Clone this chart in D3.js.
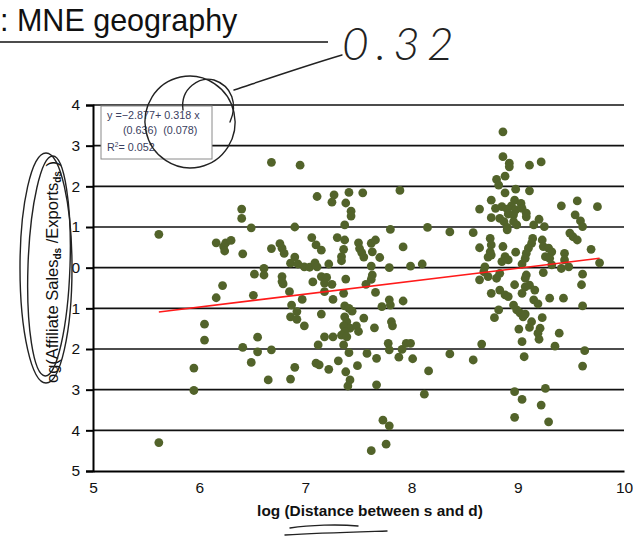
<!DOCTYPE html>
<html lang="en">
<head>
<meta charset="UTF-8">
<title>MNE geography</title>
<script src="https://cdn.jsdelivr.net/npm/d3@7"></script>
<style>
  body { margin: 0; background: #fff; }
  svg { display: block; font-family: "Liberation Sans", Arial, sans-serif; }
  .hand { fill: none; stroke: #222; stroke-width: 1.4; stroke-linecap: round; }
</style>
</head>
<body>
<script>
// chart data
const xTicks = [5, 6, 7, 8, 9, 10]
const yTicks = [4, 3, 2, 1, 0, -1, -2, -3, -4, -5]
const yTickLabels = ['4', '3', '2', '1', '0', '1', '2', '3', '4', '5']   // minus signs are cut off in the scan
const fit = { intercept: -2.877, slope: 0.318, from: 5.62, to: 9.77 }
const fitLines = ['y =\u22122.877+ 0.318 x', '(0.636)  (0.078)', '= 0.052']

const distance = [
  6.68, 6.95, 6.40, 6.40, 5.62, 6.49, 6.90, 6.16, 6.23, 6.25, 6.30, 6.24, 6.41, 6.68, 6.76, 6.78, 6.80,
  6.90, 6.86, 6.93, 6.99, 6.61, 6.61, 6.52, 6.78, 6.78, 6.79, 6.85, 6.22, 6.16, 6.51, 6.87, 6.97,
  6.92, 6.86, 6.92, 6.99, 6.05, 6.05, 6.55, 6.41, 6.55, 6.68, 6.49, 5.95, 6.90, 6.65, 6.86, 5.95, 5.62,
  7.11, 7.27, 7.25, 7.41, 7.54, 7.89, 7.38, 7.43, 7.43, 7.37, 7.80, 8.15, 8.36, 7.06, 7.10, 7.15,
  7.30, 7.37, 7.36, 7.50, 7.51, 7.53, 7.62, 7.66, 7.63, 7.55, 7.70, 7.92, 7.34, 7.34, 7.04, 7.09,
  7.11, 7.22, 7.62, 7.79, 7.99, 8.10, 7.15, 7.20, 7.07, 7.18, 7.25, 7.18, 7.38, 7.63, 7.62, 7.57,
  7.36, 7.66, 7.26, 7.37, 7.41, 7.72, 7.79, 7.80, 7.92,
  7.15, 7.44, 7.37, 7.39, 7.36, 7.42, 7.48, 7.50, 7.37, 7.34, 7.26, 7.18, 7.39, 7.36, 7.55, 7.81,
  7.82, 7.65, 7.12, 7.41, 7.58, 7.67, 7.78, 7.79, 7.91, 7.95, 7.99, 7.88, 8.01, 8.36, 7.10, 7.13,
  7.22, 7.31, 7.38, 7.49, 7.42, 7.40, 7.67, 8.16, 8.12, 7.73, 7.79, 7.76, 7.62,
  8.86, 8.86, 8.92, 8.92, 9.11, 9.22, 8.88, 8.80, 8.82, 8.88, 8.98, 9.11, 8.75, 8.97, 9.03, 8.94,
  8.85, 8.79, 8.90, 8.98, 9.04, 8.91, 8.96, 9.08, 8.75, 8.83, 8.87, 8.96, 9.08, 8.99, 8.90, 8.90,
  8.64, 9.41, 9.56, 9.75, 9.54, 9.59, 9.61, 9.20, 9.15, 9.25, 8.58, 8.74, 8.75, 8.74, 8.72, 8.75,
  8.64, 8.86, 9.14, 9.13, 9.10, 9.08, 9.07, 9.04, 9.23, 9.24, 9.29, 9.32, 9.26, 9.30, 9.32, 9.49,
  9.52, 9.56, 9.69, 9.44, 9.44, 9.41, 9.48, 9.77, 8.98, 8.88, 8.85, 8.91, 8.69, 8.68, 8.64, 8.72,
  8.83, 8.80, 9.08, 9.07, 9.24, 9.61, 9.60, 8.97, 9.07, 9.11, 9.16, 9.04, 8.75, 8.83, 8.88, 8.91,
  9.30, 9.43, 9.15,
  9.19, 9.61, 8.82, 8.96, 8.99, 9.02, 8.78, 9.05, 9.07, 9.13, 9.11, 9.23, 9.21, 9.19, 9.20, 9.01,
  9.39, 9.04, 8.66, 9.35, 8.58, 9.06, 9.63, 9.61, 8.97, 9.04, 9.26, 9.22, 8.97, 9.29
]
const salesRatio = [
  2.59, 2.52, 1.44, 1.21, 0.82, 0.98, 1.00, 0.61, 0.52, 0.61, 0.67, 0.41, 0.34, 0.47, 0.59, 0.48, 0.35,
  0.26, 0.11, 0.09, 0.02, -0.02, -0.18, -0.16, -0.22, -0.34, -0.40, -0.59, -0.44, -0.74, -0.68, -0.92, -0.78,
  -1.08, -1.21, -1.27, -1.43, -1.39, -1.78, -1.71, -1.96, -2.07, -2.02, -2.33, -2.47, -2.45, -2.76, -2.74, -3.02, -4.30,
  1.75, 1.79, 1.61, 1.85, 1.84, 1.90, 1.59, 1.39, 1.27, 1.05, 0.94, 0.99, 0.88, 0.74, 0.56, 0.43,
  0.74, 0.68, 0.45, 0.61, 0.47, 0.37, 0.60, 0.68, 0.39, 0.26, 0.25, 0.51, 0.27, 0.17, 0.01, 0.12,
  0.02, 0.09, 0.04, 0.00, 0.04, 0.09, -0.22, -0.24, -0.35, -0.38, -0.41, -0.59, -0.28, -0.18, -0.29, -0.41,
  -0.63, -0.61, -0.78, -0.94, -1.00, -0.96, -0.79, -0.92, -0.82,
  -1.14, -1.07, -1.21, -1.33, -1.43, -1.49, -1.43, -1.57, -1.57, -1.66, -1.70, -1.70, -1.70, -1.90, -1.24, -1.33,
  -1.43, -1.48, -1.90, -2.09, -2.11, -2.23, -1.86, -2.02, -2.01, -1.86, -1.86, -2.20, -2.24, -2.12, -2.35, -2.39,
  -2.50, -2.29, -2.56, -2.41, -2.76, -2.91, -2.88, -2.54, -3.11, -3.75, -3.89, -4.34, -4.50,
  3.34, 2.73, 2.57, 2.48, 2.52, 2.60, 2.25, 2.17, 2.03, 1.84, 1.93, 1.89, 1.66, 1.66, 1.58, 1.52,
  1.50, 1.46, 1.44, 1.42, 1.46, 1.32, 1.30, 1.25, 1.23, 1.21, 1.13, 1.13, 1.34, 1.05, 0.99, 0.93,
  1.44, 1.52, 1.64, 1.50, 1.30, 1.15, 1.01, 1.19, 1.05, 1.01, 0.86, 0.72, 0.56, 0.39, 0.26, 0.31,
  0.49, 0.52, 0.72, 0.60, 0.48, 0.35, 0.23, 0.09, 0.68, 0.52, 0.48, 0.39, 0.27, 0.23, 0.07, 0.85,
  0.76, 0.68, 0.45, 0.35, 0.19, -0.02, 0.02, 0.12, 0.38, 0.27, 0.15, 0.19, 0.02, -0.10, -0.30, -0.22,
  -0.14, -0.26, -0.18, -0.26, -0.12, -0.16, -0.42, -0.42, -0.47, -0.43, -0.55, -0.63, -0.63, -0.55, -0.67, -0.71,
  -0.75, -0.75, -0.79,
  -0.89, -0.94, -1.04, -0.92, -1.04, -1.11, -1.23, -1.21, -1.14, -1.33, -1.47, -1.23, -1.49, -1.61, -1.76, -1.51,
  -1.61, -1.82, -1.88, -1.93, -2.27, -2.19, -2.04, -2.42, -3.05, -3.24, -2.97, -3.38, -3.68, -3.79
]

const w = 633
const h = 536

const svg = d3.select('body').append('svg')
  .attr('width', w)
  .attr('height', h)

svg.append('rect').attr('width', w).attr('height', h).attr('fill', '#fff')

// slide title (cut off on the left in the scan)
svg.append('text')
  .attr('x', 0)
  .attr('y', 31)
  .attr('font-size', 30.5)
  .attr('fill', '#111')
  .text(': MNE geography')
svg.append('line')
  .attr('x1', 0).attr('x2', 328)
  .attr('y1', 42).attr('y2', 42)
  .attr('stroke', '#111').attr('stroke-width', 1.5)

const xScale = d3.scaleLinear().domain([5, 10]).range([93, 624])
const yScale = d3.scaleLinear().domain([-5, 4]).range([471, 105])

// horizontal gridlines
svg.append('g')
  .selectAll('line')
  .data(yTicks.filter(d => d > -5))
  .enter()
  .append('line')
  .attr('x1', xScale(5))
  .attr('x2', xScale(10))
  .attr('y1', d => yScale(d))
  .attr('y2', d => yScale(d))
  .attr('stroke', '#111')
  .attr('stroke-width', 1.7)

// y axis
const yAxis = d3.axisLeft(yScale)
  .tickValues(yTicks)
  .tickFormat((d, i) => yTickLabels[i])
  .tickSize(7)
  .tickPadding(6)
const gy = svg.append('g')
  .attr('transform', 'translate(' + xScale(5) + ',0)')
  .call(yAxis)
gy.select('.domain').attr('stroke', '#000').attr('stroke-width', 2)
gy.selectAll('.tick line').attr('stroke', '#000').attr('stroke-width', 2)
gy.selectAll('.tick text')
  .attr('font-size', 15.5)
  .attr('font-family', '"Liberation Sans", Arial, sans-serif')
  .attr('fill', '#111')

// x axis
const xAxis = d3.axisBottom(xScale)
  .tickValues(xTicks)
  .tickFormat(d3.format('d'))
  .tickSize(0)
  .tickPadding(11)
const gx = svg.append('g')
  .attr('transform', 'translate(0,' + yScale(-5) + ')')
  .call(xAxis)
gx.select('.domain').attr('stroke', '#000').attr('stroke-width', 2)
gx.selectAll('.tick text')
  .attr('font-size', 15.5)
  .attr('font-family', '"Liberation Sans", Arial, sans-serif')
  .attr('fill', '#111')

// axis titles
svg.append('text')
  .attr('x', 370)
  .attr('y', 516)
  .attr('text-anchor', 'middle')
  .attr('font-size', 15.4)
  .attr('font-weight', 'bold')
  .attr('fill', '#111')
  .text('log (Distance between s and d)')

const yTitle = svg.append('text')
  .attr('transform', 'translate(58,272) rotate(-90)')
  .attr('text-anchor', 'middle')
  .attr('font-size', 16.5)
  .attr('fill', '#111')
yTitle.append('tspan').text('og(Affiliate Sales')
yTitle.append('tspan').attr('font-size', 10).attr('font-weight', 'bold').attr('baseline-shift', '-3').text('ds')
yTitle.append('tspan').text(' /Exports')
yTitle.append('tspan').attr('font-size', 10).attr('font-weight', 'bold').attr('baseline-shift', '-3').text('ds')
yTitle.append('tspan').text(' )')

// points
svg.append('g')
  .selectAll('circle')
  .data(distance.map((d, i) => [d, salesRatio[i]]))
  .enter()
  .append('circle')
  .attr('cx', d => xScale(d[0]))
  .attr('cy', d => yScale(d[1]))
  .attr('r', 4.4)
  .attr('fill', '#52632a')

// fitted line
svg.append('line')
  .attr('x1', xScale(fit.from))
  .attr('x2', xScale(fit.to))
  .attr('y1', yScale(fit.intercept + fit.slope * fit.from))
  .attr('y2', yScale(fit.intercept + fit.slope * fit.to))
  .attr('stroke', '#ff1a1a')
  .attr('stroke-width', 1.6)

// regression box
const box = svg.append('g').attr('transform', 'translate(101,106)')
box.append('rect')
  .attr('width', 111).attr('height', 53)
  .attr('fill', '#fff')
  .attr('stroke', '#8a8a8a')
  .attr('stroke-width', 1)
const boxText = box.append('g')
  .attr('font-size', 10.8)
  .attr('fill', '#3a4060')
boxText.append('text').attr('x', 6).attr('y', 13).text(fitLines[0])
boxText.append('text').attr('x', 22).attr('y', 28).attr('xml:space', 'preserve').text(fitLines[1])
const r2 = boxText.append('text').attr('x', 6).attr('y', 45)
r2.append('tspan').text('R')
r2.append('tspan').attr('font-size', 6.5).attr('baseline-shift', '4').text('2')
r2.append('tspan').text(fitLines[2])

// hand-drawn pen marks on the scan
const pen = svg.append('g')
pen.append('ellipse').attr('class', 'hand')
  .attr('cx', 190).attr('cy', 122).attr('rx', 45).attr('ry', 46)
  .attr('transform', 'rotate(-12,190,122)')
pen.append('path').attr('class', 'hand')
  .attr('d', 'M183,110 C180,88 200,76 214,80 C232,86 238,104 230,122')
pen.append('path').attr('class', 'hand')
  .attr('d', 'M234,90 C270,78 305,66 342,55')
pen.append('ellipse').attr('class', 'hand')
  .attr('cx', 46).attr('cy', 268).attr('rx', 26).attr('ry', 115)
pen.append('ellipse').attr('class', 'hand')
  .attr('cx', 49).attr('cy', 266).attr('rx', 21).attr('ry', 110)
  .attr('transform', 'rotate(2,49,266)')
pen.append('path').attr('class', 'hand')
  .attr('d', 'M290,528 C310,525 338,524 358,526')
pen.append('path').attr('class', 'hand')
  .attr('d', 'M285,535 C318,533 355,532 387,531')
pen.append('text')
  .attr('x', 342)
  .attr('y', 60)
  .attr('font-size', 46)
  .attr('font-family', 'Lato, "DejaVu Sans", sans-serif')
  .attr('font-weight', 300)
  .attr('font-style', 'italic')
  .attr('letter-spacing', 7)
  .attr('fill', '#222')
  .text('0.32')
</script>
</body>
</html>
